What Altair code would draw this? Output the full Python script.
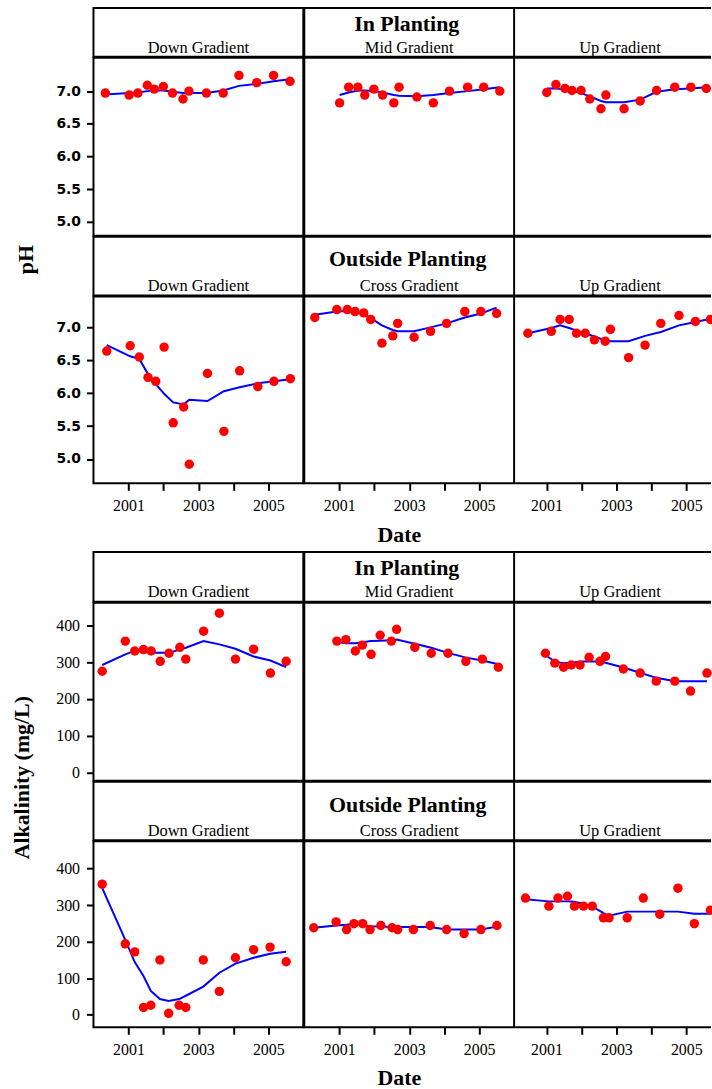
import altair as alt
import pandas as pd

# Sampling dates (decimal years), observed values and loess fits for each well group.

# ---- pH, inside the planting ----
PH_IN_DOWN_DATE = [2000.34, 2001.02, 2001.27, 2001.54, 2001.74, 2002.00, 2002.26, 2002.56,
                   2002.73, 2003.23, 2003.71, 2004.16, 2004.67, 2005.15, 2005.62]
PH_IN_DOWN = [6.97, 6.94, 6.97, 7.09, 7.03, 7.07, 6.97, 6.88, 7.00, 6.97, 6.97, 7.24, 7.13, 7.24, 7.15]
PH_IN_DOWN_FIT = [6.95, 6.97, 6.98, 7.00, 7.01, 7.01, 6.99, 6.97, 6.97, 6.97, 7.01, 7.08, 7.11, 7.15, 7.18]

PH_IN_MID_DATE = [2001.01, 2001.27, 2001.53, 2001.73, 2001.99, 2002.24, 2002.56, 2002.71,
                  2003.22, 2003.69, 2004.15, 2004.67, 2005.13, 2005.59]
PH_IN_MID = [6.82, 7.06, 7.06, 6.94, 7.03, 6.94, 6.82, 7.06, 6.91, 6.82, 7.00, 7.06, 7.06, 7.00]
PH_IN_MID_FIT = [6.94, 6.98, 7.01, 7.01, 7.00, 6.98, 6.94, 6.93, 6.92, 6.94, 6.97, 7.00, 7.03, 7.06]

PH_IN_UP_DATE = [2001.01, 2001.27, 2001.53, 2001.73, 2001.99, 2002.24, 2002.56, 2002.70,
                 2003.22, 2003.68, 2004.15, 2004.67, 2005.13, 2005.57]
PH_IN_UP = [6.98, 7.10, 7.04, 7.01, 7.01, 6.88, 6.73, 6.94, 6.73, 6.85, 7.01, 7.06, 7.06, 7.04]
PH_IN_UP_FIT = [7.04, 7.04, 7.03, 7.01, 6.97, 6.92, 6.85, 6.83, 6.83, 6.87, 6.99, 7.03, 7.04, 7.06]

# ---- pH, outside the planting ----
PH_OUT_DOWN_DATE = [2000.38, 2001.05, 2001.31, 2001.56, 2001.78, 2002.02, 2002.28, 2002.58,
                    2002.74, 2003.26, 2003.73, 2004.18, 2004.70, 2005.16, 2005.63]
PH_OUT_DOWN = [6.64, 6.72, 6.55, 6.24, 6.18, 6.70, 5.55, 5.79, 4.92, 6.30, 5.42, 6.34, 6.10, 6.18, 6.22]
PH_OUT_DOWN_FIT = [6.73, 6.56, 6.52, 6.29, 6.14, 5.99, 5.86, 5.83, 5.90, 5.88, 6.03, 6.09, 6.15, 6.18, 6.21]

PH_OUT_CROSS_DATE = [2000.30, 2000.93, 2001.23, 2001.45, 2001.70, 2001.90, 2002.22, 2002.53,
                     2002.67, 2003.14, 2003.61, 2004.07, 2004.59, 2005.05, 2005.50]
PH_OUT_CROSS = [7.15, 7.27, 7.27, 7.24, 7.22, 7.12, 6.76, 6.87, 7.06, 6.85, 6.94, 7.06, 7.24, 7.24, 7.21]
PH_OUT_CROSS_FIT = [7.19, 7.24, 7.25, 7.23, 7.20, 7.14, 7.03, 6.96, 6.94, 6.94, 7.00, 7.06, 7.15, 7.21, 7.30]

PH_OUT_UP_DATE = [2000.47, 2001.14, 2001.39, 2001.65, 2001.86, 2002.11, 2002.37, 2002.68,
                  2002.83, 2003.35, 2003.82, 2004.27, 2004.79, 2005.26, 2005.69]
PH_OUT_UP = [6.91, 6.94, 7.12, 7.12, 6.91, 6.91, 6.81, 6.79, 6.97, 6.54, 6.73, 7.06, 7.18, 7.09, 7.12]
PH_OUT_UP_FIT = [6.91, 6.99, 7.03, 6.99, 6.95, 6.91, 6.86, 6.80, 6.79, 6.79, 6.87, 6.93, 7.03, 7.08, 7.13]

# ---- Alkalinity (mg/L), inside the planting ----
ALK_IN_DOWN_DATE = [2000.25, 2000.91, 2001.18, 2001.43, 2001.65, 2001.91, 2002.16, 2002.47,
                    2002.64, 2003.15, 2003.60, 2004.06, 2004.58, 2005.06, 2005.51]
ALK_IN_DOWN = [275, 357, 330, 334, 330, 302, 324, 340, 308, 384, 433, 308, 335, 270, 302]
ALK_IN_DOWN_FIT = [292, 321, 331, 328, 325, 325, 325, 334, 339, 357, 348, 336, 315, 304, 286]

ALK_IN_MID_DATE = [2000.93, 2001.19, 2001.46, 2001.66, 2001.91, 2002.17, 2002.49, 2002.64,
                   2003.16, 2003.63, 2004.11, 2004.62, 2005.09, 2005.55]
ALK_IN_MID = [357, 361, 330, 346, 321, 373, 357, 389, 340, 324, 324, 302, 308, 286]
ALK_IN_MID_FIT = [355, 351, 351, 354, 357, 358, 359, 361, 350, 339, 325, 312, 304, 294]

ALK_IN_UP_DATE = [2000.97, 2001.24, 2001.49, 2001.71, 2001.96, 2002.22, 2002.53, 2002.69,
                  2003.20, 2003.68, 2004.14, 2004.67, 2005.12, 2005.59]
ALK_IN_UP = [324, 297, 286, 292, 292, 313, 302, 315, 281, 270, 248, 248, 221, 270]
ALK_IN_UP_FIT = [319, 301, 297, 298, 301, 302, 301, 298, 285, 271, 257, 248, 248, 248]

# ---- Alkalinity (mg/L), outside the planting ----
ALK_OUT_DOWN_DATE = [2000.25, 2000.91, 2001.18, 2001.43, 2001.64, 2001.90, 2002.15, 2002.45,
                     2002.64, 2003.14, 2003.60, 2004.06, 2004.58, 2005.05, 2005.51]
ALK_OUT_DOWN = [357, 194, 172, 20, 26, 150, 4, 26, 20, 150, 64, 156, 178, 185, 145]
ALK_OUT_DOWN_FIT = [346, 205, 144, 106, 65, 43, 38, 43, 52, 77, 115, 140, 156, 167, 172]

ALK_OUT_CROSS_DATE = [2000.27, 2000.91, 2001.21, 2001.42, 2001.67, 2001.88, 2002.19, 2002.51,
                      2002.67, 2003.12, 2003.60, 2004.07, 2004.57, 2005.05, 2005.51]
ALK_OUT_CROSS = [238, 254, 233, 249, 249, 233, 244, 238, 233, 233, 244, 233, 222, 233, 244]
ALK_OUT_CROSS_FIT = [238, 244, 246, 249, 245, 242, 241, 240, 240, 240, 240, 233, 233, 233, 241]

ALK_OUT_UP_DATE = [2000.40, 2001.07, 2001.33, 2001.60, 2001.80, 2002.06, 2002.31, 2002.63,
                   2002.79, 2003.31, 2003.77, 2004.24, 2004.76, 2005.23, 2005.69]
ALK_OUT_UP = [319, 297, 319, 324, 297, 297, 297, 265, 265, 265, 319, 275, 346, 249, 286]
ALK_OUT_UP_FIT = [316, 310, 310, 310, 309, 303, 296, 278, 271, 282, 282, 282, 282, 276, 276]

# ---- labels and tick values ----
GROUPS = ["In Planting", "Outside Planting"]
SITES = [["Down Gradient", "Mid Gradient", "Up Gradient"],
         ["Down Gradient", "Cross Gradient", "Up Gradient"]]
YEAR_TICKS = [2001, 2002, 2003, 2004, 2005]
PH_TICKS = [5.0, 5.5, 6.0, 6.5, 7.0]
ALK_TICKS = [0, 100, 200, 300, 400]

# ---- styling / layout ----
SERIF = "Liberation Serif"
PANEL_W = [211, 211, 198]          # the last column runs off the right edge of the page
X_DOMAINS = [[2000.0, 2006.0], [2000.0, 2006.0], [2000.104, 2005.734]]
PH_DOMAINS = [[4.79, 7.51], [4.63, 7.47]]
ALK_DOMAINS = [[-22.8, 461.5], [-34.2, 474.1]]


def x_axis(with_title):
    kw = dict(values=YEAR_TICKS,
              labelExpr="datum.value % 2 == 1 ? format(datum.value, 'd') : ''",
              tickSize=7, tickWidth=2, tickColor="black",
              labelPadding=20, labelBaseline="alphabetic",
              labelFont=SERIF, labelFontSize=16, labelColor="black",
              labelFlush=False, labelOverlap=False, domain=False, grid=False)
    if with_title:
        kw.update(title="Date", titleFont=SERIF, titleFontSize=22, titleFontWeight="bold",
                  titleColor="black", titleX=95, titleY=58, titleBaseline="alphabetic",
                  titleAlign="center")
    else:
        kw["title"] = None
    return alt.Axis(**kw)


PH_AXIS = alt.Axis(values=PH_TICKS, format=".1f", title=None,
                   labelFont="DejaVu Sans", labelFontWeight="bold", labelFontSize=14,
                   labelColor="black", labelPadding=6, tickSize=7, tickWidth=2,
                   tickColor="black", domain=False, grid=False, minExtent=45,
                   labelOverlap=False)

ALK_AXIS = alt.Axis(values=ALK_TICKS, format="d", title=None,
                    labelFont=SERIF, labelFontSize=16, labelColor="black",
                    labelPadding=7, tickSize=7, tickWidth=2, tickColor="black",
                    domain=False, grid=False, minExtent=45, labelOverlap=False)


def open_frame(width, height):
    """Top and bottom frame lines for a cell whose right side is cut by the page edge."""
    d = pd.DataFrame({"edge": [0]})
    top = alt.Chart(d).mark_rule(color="black", strokeWidth=2).encode(
        x=alt.value(0), x2=alt.value(width - 1), y=alt.value(0))
    bottom = alt.Chart(d).mark_rule(color="black", strokeWidth=2).encode(
        x=alt.value(0), x2=alt.value(width - 1), y=alt.value(height))
    return [top, bottom]


def panel(dates, values, fit, width, x_domain, y_domain, y_ax, x_ax, height, open_right):
    df = pd.DataFrame({"Date": dates, "Value": values, "Fit": fit})
    xs = alt.Scale(domain=x_domain, nice=False, zero=False)
    ys = alt.Scale(domain=y_domain, nice=False, zero=False)
    base = alt.Chart(df)
    line = base.mark_line(color="#0000FF", strokeWidth=2, clip=open_right).encode(
        x=alt.X("Date:Q", scale=xs, axis=x_ax),
        y=alt.Y("Fit:Q", scale=ys, axis=y_ax),
    )
    pts = base.mark_circle(color="#FF0000", size=90, opacity=1, clip=open_right).encode(
        x=alt.X("Date:Q", scale=xs, axis=x_ax),
        y=alt.Y("Value:Q", scale=ys, axis=y_ax),
    )
    layers = [line, pts]
    if open_right:
        layers += open_frame(width, height)
        return alt.layer(*layers).properties(width=width, height=height,
                                             view=alt.ViewBackground(stroke=None))
    return alt.layer(*layers).properties(width=width, height=height)


def strip(sub, width, height, sub_y, title=None, title_y=0, title_x=0, open_right=False):
    layers = [
        alt.Chart(pd.DataFrame({"site": [sub]})).mark_text(
            font=SERIF, fontSize=16.5, color="black", align="center", baseline="alphabetic"
        ).encode(text="site:N", x=alt.value(105.5), y=alt.value(sub_y))
    ]
    if title:
        layers.append(
            alt.Chart(pd.DataFrame({"group": [title]})).mark_text(
                font=SERIF, fontSize=22, fontWeight="bold", color="black",
                align="center", baseline="alphabetic"
            ).encode(text="group:N", x=alt.value(title_x), y=alt.value(title_y))
        )
    if open_right:
        layers += open_frame(width, height)
        return alt.layer(*layers).properties(width=width, height=height,
                                             view=alt.ViewBackground(stroke=None))
    return alt.layer(*layers).properties(width=width, height=height)


def block(label, label_x, label_y, cells, y_domains, y_ax, strip_h, plot_h, text_pos):
    columns = []
    for c in range(3):
        parts = []
        open_right = c == 2
        for r in range(2):
            sub_y, title_y, title_x = text_pos[r]
            title = GROUPS[r] if c == 1 else None
            parts.append(strip(SITES[r][c], PANEL_W[c], strip_h[r], sub_y, title,
                               title_y, title_x, open_right))
            dates, vals, fit = cells[r][c]
            xa = x_axis(c == 1) if r == 1 else None
            ya = y_ax if c == 0 else None
            parts.append(panel(dates, vals, fit, PANEL_W[c], X_DOMAINS[c], y_domains[r],
                               ya, xa, plot_h[r], open_right))
        columns.append(alt.vconcat(*parts, spacing=-2))
    ylabel = alt.Chart(pd.DataFrame({"t": [label]})).mark_text(
        font=SERIF, fontSize=22, fontWeight="bold", color="black", angle=270,
        align="center", baseline="alphabetic"
    ).encode(text="t:N", x=alt.value(label_x), y=alt.value(label_y)).properties(
        width=50, height=470, view=alt.ViewBackground(stroke=None)
    )
    return alt.hconcat(ylabel, *columns, spacing=-2)


ph_cells = [
    [(PH_IN_DOWN_DATE, PH_IN_DOWN, PH_IN_DOWN_FIT),
     (PH_IN_MID_DATE, PH_IN_MID, PH_IN_MID_FIT),
     (PH_IN_UP_DATE, PH_IN_UP, PH_IN_UP_FIT)],
    [(PH_OUT_DOWN_DATE, PH_OUT_DOWN, PH_OUT_DOWN_FIT),
     (PH_OUT_CROSS_DATE, PH_OUT_CROSS, PH_OUT_CROSS_FIT),
     (PH_OUT_UP_DATE, PH_OUT_UP, PH_OUT_UP_FIT)],
]
alk_cells = [
    [(ALK_IN_DOWN_DATE, ALK_IN_DOWN, ALK_IN_DOWN_FIT),
     (ALK_IN_MID_DATE, ALK_IN_MID, ALK_IN_MID_FIT),
     (ALK_IN_UP_DATE, ALK_IN_UP, ALK_IN_UP_FIT)],
    [(ALK_OUT_DOWN_DATE, ALK_OUT_DOWN, ALK_OUT_DOWN_FIT),
     (ALK_OUT_CROSS_DATE, ALK_OUT_CROSS, ALK_OUT_CROSS_FIT),
     (ALK_OUT_UP_DATE, ALK_OUT_UP, ALK_OUT_UP_FIT)],
]

ph_block = block("pH", 33, 253, ph_cells, PH_DOMAINS, PH_AXIS,
                 strip_h=[49, 59], plot_h=[179, 188],
                 text_pos=[(45.3, 22.7, 103), (54.3, 29.3, 104)])
alk_block = block("Alkalinity (mg/L)", 29, 227, alk_cells, ALK_DOMAINS, ALK_AXIS,
                  strip_h=[50, 59], plot_h=[179, 187],
                  text_pos=[(45.3, 22.7, 103), (54.3, 30, 104)])

chart = alt.vconcat(ph_block, alk_block, spacing=5).properties(
    padding={"left": 0, "top": 4, "right": 0, "bottom": 0},
    background="white",
).configure_view(stroke="black", strokeWidth=2)

chart.save("out.html", embed_options={"renderer": "svg", "actions": False})
